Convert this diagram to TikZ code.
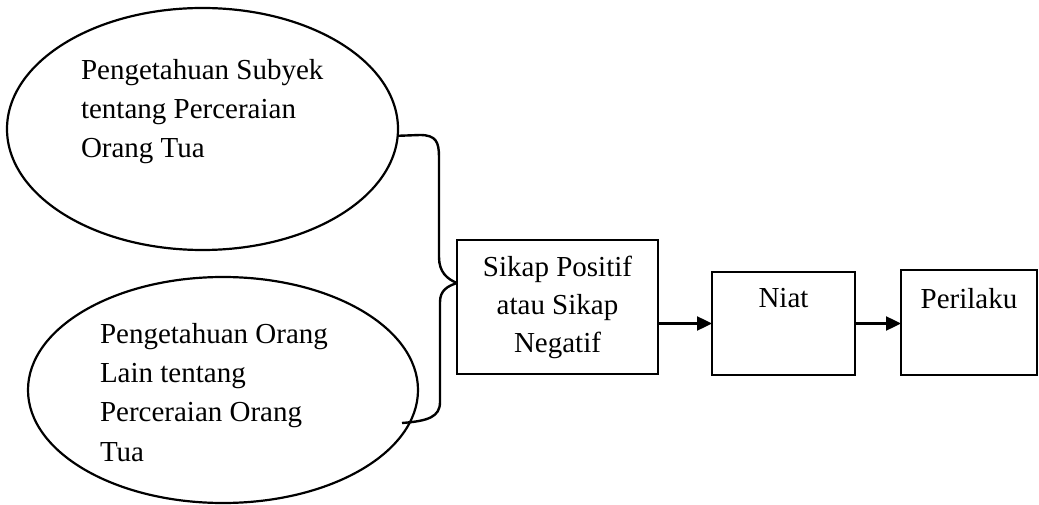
\documentclass[tikz,border=0pt]{standalone}
\usepackage{fontspec}
\setmainfont{Liberation Serif}
\usetikzlibrary{shapes.geometric,arrows.meta}
\begin{document}
\begin{tikzpicture}[x=1pt,y=-1pt,
  every node/.style={inner sep=0pt, outer sep=0pt},
  line/.style={line width=2.4pt},
  oval/.style={ellipse, draw, line width=2.2pt},
  txt/.style={align=left, font=\fontsize{29}{39.3}\selectfont},
  boxx/.style={draw, line width=2.4pt, align=center, font=\fontsize{29}{38}\selectfont},
  arr/.style={line width=2.4pt, -{Triangle[length=15pt,width=14pt]}}]
\useasboundingbox (0,0) rectangle (1039,505);
% ellipses
\node[oval, minimum width=391pt, minimum height=242pt] (e1) at (202.5,129) {};
\node[oval, minimum width=390pt, minimum height=226pt] (e2) at (223,390) {};
\node[txt, anchor=base west] (t1) at (81,158) {Pengetahuan Subyek\\tentang Perceraian\\Orang Tua};
\node[txt, anchor=base west] (t2) at (100,461) {Pengetahuan Orang\\Lain tentang\\Perceraian Orang\\Tua};
% boxes
\node[boxx, minimum width=201pt, minimum height=134pt] (sik) at (557.5,307) {Sikap Positif\\atau Sikap\\Negatif};
\node[boxx, minimum width=143pt, text height=35pt, text depth=68pt, anchor=base] (niat) at (783.5,307) {Niat};
\node[boxx, minimum width=136pt, text height=38pt, text depth=67pt, anchor=base] (per) at (969,308) {Perilaku};
% brace connector
\coordinate (tip) at (457,283);
\coordinate (e2end) at (402,423);
\draw[line] (e1.-2) -- (420,135) .. controls (436,135) and (439,142) .. (439,157)
  -- (439,257) .. controls (439,272) and (447,279) .. (tip);
\draw[line] (tip) .. controls (448,286) and (440,290) .. (440,302)
  -- (440,402) .. controls (440,417) and (428,421) .. (e2end);
% arrows
\draw[arr] (niat.west -| sik.east) -- (niat.west);
\draw[arr] (niat.east) -- (niat.east -| per.west);
\end{tikzpicture}
\end{document}
